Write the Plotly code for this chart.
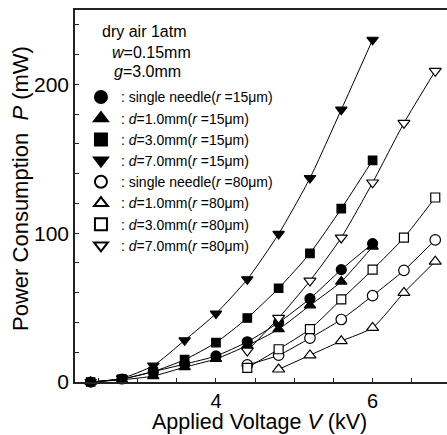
import plotly.graph_objects as go

# ---- data ----
V15 = [2.4, 2.8, 3.2, 3.6, 4.0, 4.4, 4.8, 5.2, 5.6, 6.0]
V80 = [4.4, 4.8, 5.2, 5.6, 6.0, 6.4, 6.8]

P_single_15 = [0, 2, 7, 12, 17.5, 27, 40, 56, 75.5, 93]
P_d1_15 = [0, 1.5, 4, 10, 15.5, 24.5, 35.5, 51.5, 67.5, 91]
P_d3_15 = [0, 2, 7, 15, 26.5, 43, 63, 86.5, 116.5, 149]
P_d7_15 = [0, 2.5, 11, 28, 46, 69, 99.5, 137, 183, 230]

P_single_80 = [11.5, 18, 29.5, 42, 58, 75, 95.5]
P_d1_80 = [None, 8.5, 18, 27.5, 36.5, 60, 81]
P_d3_80 = [9.5, 22, 35.5, 55.5, 75.5, 97, 124]
P_d7_80 = [21, 43, 68, 97, 134, 174, 209]

labels = [
    ": single needle(<i>r</i> =15μm)",
    ": <i>d</i>=1.0mm(<i>r</i> =15μm)",
    ": <i>d</i>=3.0mm(<i>r</i> =15μm)",
    ": <i>d</i>=7.0mm(<i>r</i> =15μm)",
    ": single needle(<i>r</i> =80μm)",
    ": <i>d</i>=1.0mm(<i>r</i> =80μm)",
    ": <i>d</i>=3.0mm(<i>r</i> =80μm)",
    ": <i>d</i>=7.0mm(<i>r</i> =80μm)",
]
header = ["dry air 1atm", "<i>w</i>=0.15mm", "<i>g</i>=3.0mm"]

series = [
    (V15, P_single_15, "circle", 10, "black"),
    (V15, P_d1_15, "triangle-up", 10, "black"),
    (V15, P_d3_15, "square", 8.5, "black"),
    (V15, P_d7_15, "triangle-down", 10, "black"),
    (V80, P_single_80, "circle", 10.5, "white"),
    (V80, P_d1_80, "triangle-up", 10.5, "white"),
    (V80, P_d3_80, "square", 9, "white"),
    (V80, P_d7_80, "triangle-down", 10.5, "white"),
]

FONT = "Liberation Sans, Arial, sans-serif"
fig = go.Figure()

for (x, y, sym, sz, fc), lab in zip(series, labels):
    fig.add_trace(go.Scatter(
        x=x, y=y, mode="lines+markers", showlegend=False,
        line=dict(color="black", width=1, shape="spline", smoothing=0.6),
        marker=dict(symbol=sym, size=sz, color=fc, line=dict(color="black", width=1.2)),
        cliponaxis=False,
    ))

for (x, y, sym, sz, fc), lab in zip(series, labels):
    fig.add_trace(go.Scatter(
        x=[None], y=[None], mode="markers", name=lab, showlegend=True,
        marker=dict(symbol=sym, size=sz, color=fc, line=dict(color="black", width=1.2)),
    ))

ys = [0.9435, 0.887, 0.836]
xs = [0.067, 0.094, 0.0995]
for t, xx, yy in zip(header, xs, ys):
    fig.add_annotation(text=t, x=xx, y=yy, xref="paper", yref="paper",
                       xanchor="left", yanchor="middle", showarrow=False,
                       font=dict(size=16, color="black", family=FONT))

fig.add_annotation(text="Applied Voltage <i>V</i> (kV)", x=0.497, y=-0.1425,
                   xref="paper", yref="paper", xanchor="center", yanchor="bottom",
                   showarrow=False, borderpad=0,
                   font=dict(size=21.5, color="black", family=FONT))
fig.add_annotation(text="Power Consumption  <i>P</i> (mW)", x=-0.148, y=0.5215,
                   xref="paper", yref="paper", xanchor="center", yanchor="middle",
                   textangle=-90, showarrow=False,
                   font=dict(size=22, color="black", family=FONT))

fig.update_layout(
    width=447, height=435,
    margin=dict(l=75, r=0, t=10, b=53),
    paper_bgcolor="white", plot_bgcolor="white",
    font=dict(family=FONT, color="black"),
    legend=dict(x=0.016, y=0.808, xanchor="left", yanchor="top",
                bgcolor="rgba(0,0,0,0)", font=dict(size=14, family=FONT),
                tracegroupgap=0, itemsizing="constant"),
    xaxis=dict(range=[2.2, 6.95], showgrid=False, zeroline=False,
               showline=True, linecolor="#222", linewidth=1.5, mirror=True,
               ticks="inside", ticklen=4, tickcolor="#222", tickwidth=1,
               tickmode="linear", tick0=4, dtick=2,
               minor=dict(ticks="inside", ticklen=4, tickcolor="#222", dtick=0.5, tick0=4, showgrid=False),
               tickfont=dict(size=20, family=FONT)),
    yaxis=dict(range=[0, 250], showgrid=False, zeroline=False,
               showline=True, linecolor="#222", linewidth=1.5, mirror=False,
               ticks="inside", ticklen=4, tickcolor="#222", tickwidth=1,
               tickmode="linear", tick0=0, dtick=100,
               minor=dict(ticks="inside", ticklen=4, tickcolor="#222", dtick=20, tick0=0, showgrid=False),
               tickfont=dict(size=21, family=FONT)),
)

fig.write_html("out.html")
